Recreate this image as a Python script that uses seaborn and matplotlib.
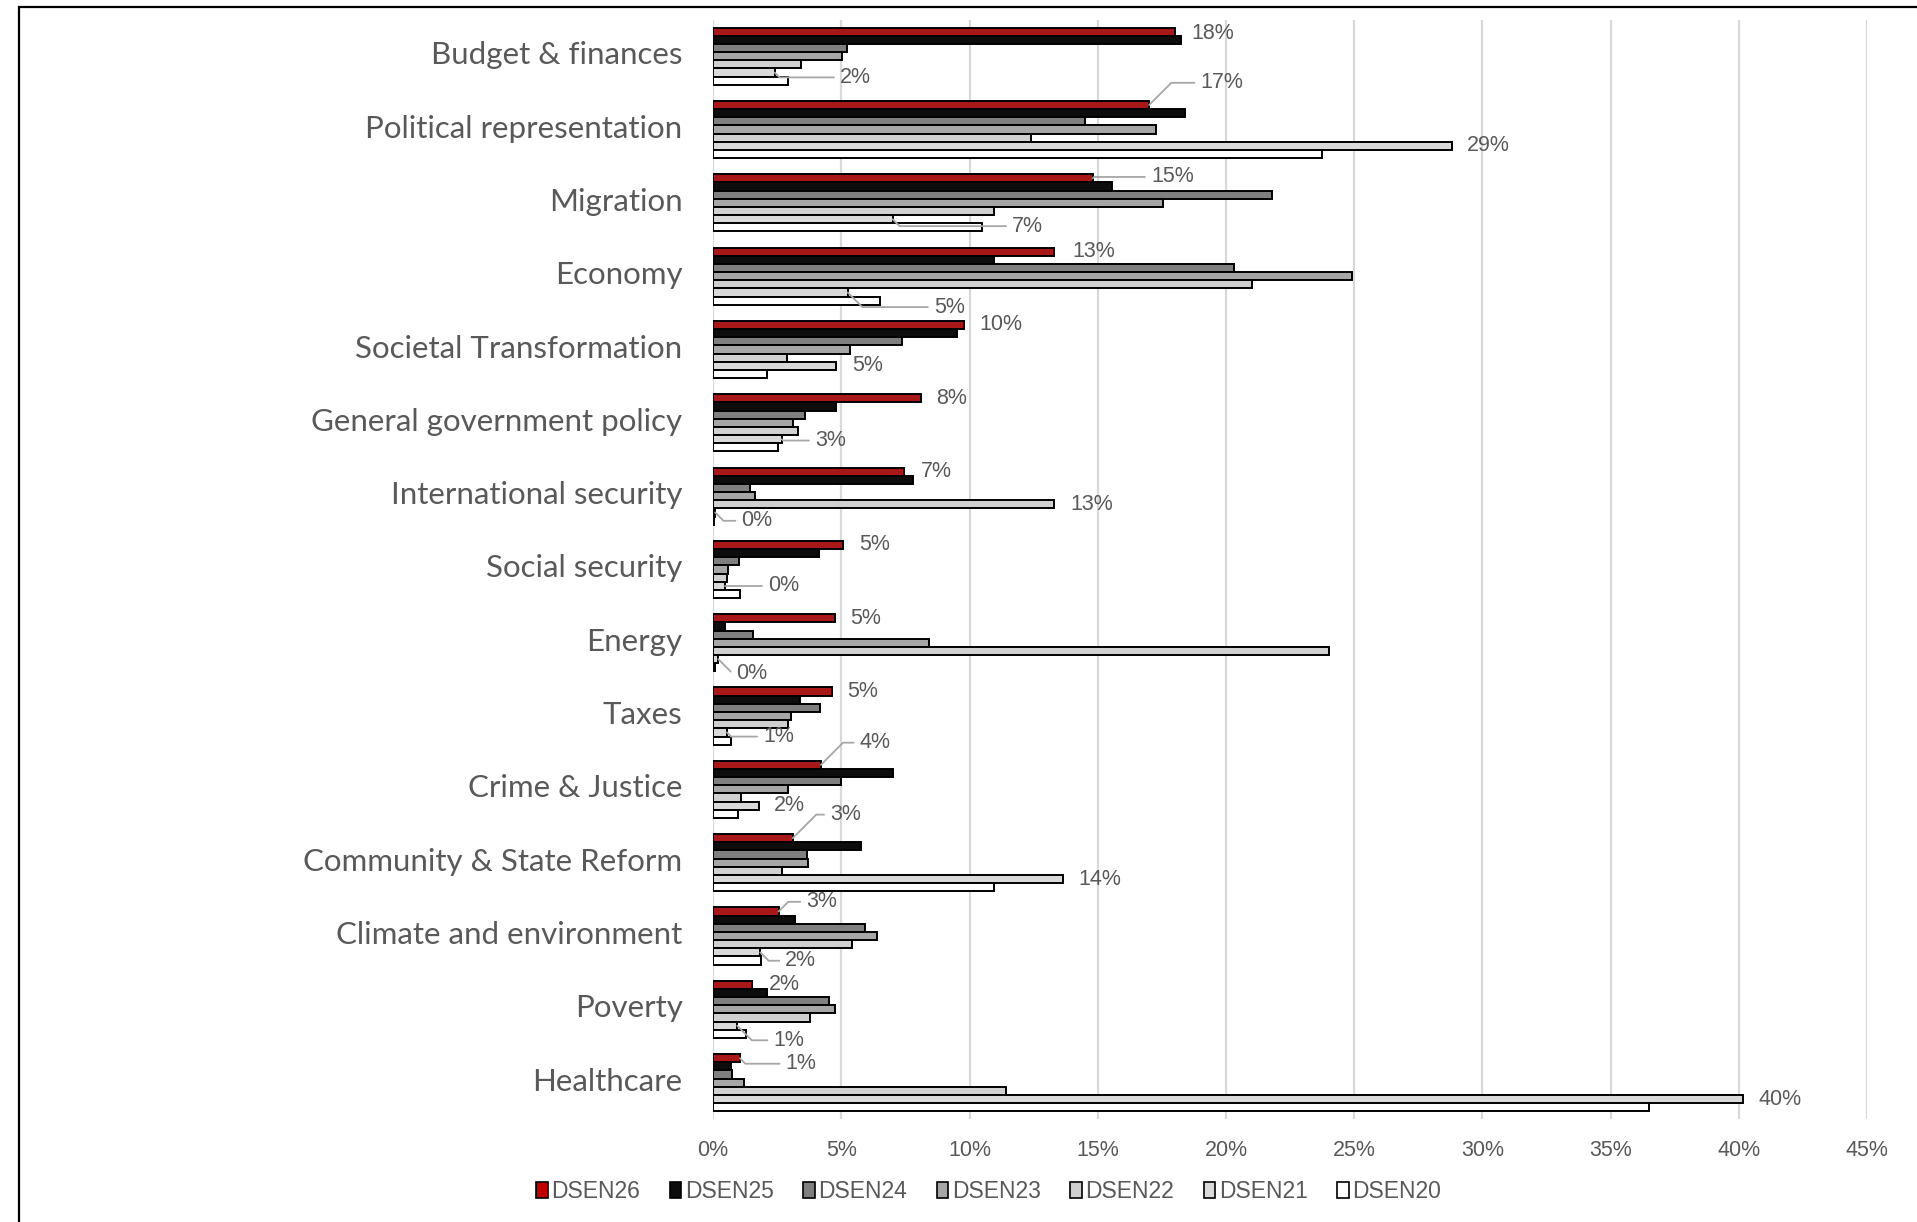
import matplotlib
matplotlib.use("Agg")
import matplotlib.pyplot as plt
import matplotlib.patches as mpatches
import matplotlib.transforms as mtransforms
from matplotlib.ticker import PercentFormatter, MultipleLocator
import pandas as pd
import seaborn as sns

# ── Data ──────────────────────────────────────────────────────────────────────
CATEGORIES = ["Budget & finances", "Political representation", "Migration",
              "Economy", "Societal Transformation", "General government policy",
              "International security", "Social security", "Energy", "Taxes",
              "Crime & Justice", "Community & State Reform",
              "Climate and environment", "Poverty", "Healthcare"]
SERIES = ["DSEN26", "DSEN25", "DSEN24", "DSEN23", "DSEN22", "DSEN21", "DSEN20"]

DSEN26 = [18.0, 17.0, 14.8, 13.3, 9.8, 8.1, 7.45, 5.05, 4.75, 4.62, 4.2, 3.1, 2.55, 1.52, 1.04]
DSEN25 = [18.25, 18.4, 15.55, 10.95, 9.5, 4.8, 7.78, 4.13, 0.45, 3.4, 7.0, 5.78, 3.18, 2.1, 0.68]
DSEN24 = [5.23, 14.5, 21.8, 20.3, 7.37, 3.57, 1.42, 1.02, 1.57, 4.16, 5.0, 3.66, 5.94, 4.5, 0.72]
DSEN23 = [5.04, 17.25, 17.55, 24.9, 5.33, 3.1, 1.65, 0.57, 8.4, 3.03, 2.93, 3.69, 6.4, 4.76, 1.2]
DSEN22 = [3.43, 12.4, 10.97, 21.0, 2.9, 3.31, 13.29, 0.55, 24.0, 2.92, 1.08, 2.67, 5.42, 3.78, 11.42]
DSEN21 = [2.4, 28.8, 7.0, 5.25, 4.78, 2.67, 0.08, 0.46, 0.2, 0.54, 1.79, 13.63, 1.84, 0.94, 40.15]
DSEN20 = [2.93, 23.75, 10.49, 6.49, 2.09, 2.52, 0.05, 1.04, 0.07, 0.68, 0.97, 10.94, 1.87, 1.3, 36.49]
VALUES = [DSEN26, DSEN25, DSEN24, DSEN23, DSEN22, DSEN21, DSEN20]

COLORS = {"DSEN26": "#C00000", "DSEN25": "#0D0D0D", "DSEN24": "#7F7F7F",
          "DSEN23": "#A6A6A6", "DSEN22": "#D0D0D0", "DSEN21": "#D9D9D9",
          "DSEN20": "#FFFFFF"}

# data labels: (category index, series, text offset in points)
LABELS = [
    (0, "DSEN26", (12, -1)), (0, "DSEN21", (47, -3.5)),
    (1, "DSEN26", (37, 16)), (1, "DSEN21", (11, 0)),
    (2, "DSEN26", (42, 1)), (2, "DSEN21", (86, -5)),
    (3, "DSEN26", (13, 0)), (3, "DSEN21", (62, -10.5)),
    (4, "DSEN26", (11, 0)), (4, "DSEN21", (12, 0)),
    (5, "DSEN26", (11, 0)), (5, "DSEN21", (24, -1)),
    (6, "DSEN26", (12, 0)), (6, "DSEN22", (12, 0)), (6, "DSEN21", (19, -6)),
    (7, "DSEN26", (12, 0)), (7, "DSEN21", (31, 0)),
    (8, "DSEN26", (11, 0)), (8, "DSEN21", (13, -10)),
    (9, "DSEN26", (11, 0)), (9, "DSEN21", (26, -3)),
    (10, "DSEN26", (28, 16)), (10, "DSEN21", (11, 0)),
    (11, "DSEN26", (27, 17)), (11, "DSEN21", (11, 0)),
    (12, "DSEN26", (20, 7)), (12, "DSEN21", (18, -6)),
    (13, "DSEN26", (12, 0)), (13, "DSEN21", (26, -10.5)),
    (14, "DSEN26", (33, -4)), (14, "DSEN21", (11, 0)),
]

TEXT_COLOR = "#595959"
GRID_COLOR = "#D9D9D9"
NUM_FONT = "Liberation Sans"
CAT_FONT = "Lato"

sns.set_style("white")
plt.rcParams["font.family"] = [NUM_FONT, "DejaVu Sans"]

df = pd.DataFrame({
    "category": [c for _ in SERIES for c in CATEGORIES],
    "series": [s for s in SERIES for _ in CATEGORIES],
    "value": [v for vals in VALUES for v in vals],
})

fig = plt.figure(figsize=(19.17, 12.22), dpi=100)
ax = fig.add_axes([0.372, 0.084, 0.602, 0.9])

sns.barplot(data=df, x="value", y="category", hue="series", orient="h",
            order=CATEGORIES, hue_order=SERIES, palette=COLORS,
            edgecolor="black", linewidth=1.4, width=0.78, errorbar=None,
            legend=False, ax=ax)

ax.set_xlim(0, 45)
ax.set_ylim(len(CATEGORIES) - 0.5, -0.5)
ax.xaxis.set_major_locator(MultipleLocator(5))
ax.xaxis.set_major_formatter(PercentFormatter(decimals=0))
ax.set_xlabel("")
ax.set_ylabel("")
for s in ax.spines.values():
    s.set_visible(False)
ax.grid(axis="x", color=GRID_COLOR, linewidth=1.6)
ax.grid(axis="y", visible=False)
ax.set_axisbelow(True)
ax.tick_params(axis="x", length=0, pad=15, labelsize=15.5, labelcolor=TEXT_COLOR)
ax.tick_params(axis="y", length=0, pad=22, labelcolor=TEXT_COLOR)
lift = mtransforms.ScaledTranslation(0, 2.5 / 72, fig.dpi_scale_trans)
for lbl in ax.get_yticklabels():
    lbl.set_fontfamily(CAT_FONT)
    lbl.set_fontsize(22.5)
    lbl.set_transform(lbl.get_transform() + lift)

# ── data labels with leader lines ─────────────────────────────────────────────
for ci, series, (dx, dy) in LABELS:
    bar = ax.containers[SERIES.index(series)][ci]
    val = VALUES[SERIES.index(series)][ci]
    xy = (bar.get_width(), bar.get_y() + bar.get_height() / 2)
    props = None
    if dx > 14 or abs(dy) > 3:
        ang = 45 if dy >= 0 else -45
        props = dict(arrowstyle="-", color="#A6A6A6", lw=1.3, shrinkA=2,
                     shrinkB=0, relpos=(0, 0.5),
                     connectionstyle=f"angle,angleA=0,angleB={ang},rad=0")
    ax.annotate(f"{val:.0f}%", xy=xy, xytext=(dx, dy),
                textcoords="offset points", ha="left", va="center",
                fontsize=15.5, color=TEXT_COLOR, arrowprops=props)

# ── legend ────────────────────────────────────────────────────────────────────
handles = [mpatches.Patch(facecolor=COLORS[s], edgecolor="black",
                          linewidth=1.2, label=s) for s in SERIES]
fig.legend(handles=handles, loc="center left", bbox_to_anchor=(0.269, 0.025),
           ncol=7, frameon=False, fontsize=16.5, handlelength=0.5,
           handleheight=0.75, handletextpad=0.15, columnspacing=1.3,
           labelcolor=TEXT_COLOR)

# chart border
fig.patches.append(mpatches.Rectangle((19 / 1917, -0.1), 1.2, 1.1 - 7 / 1222,
                                      transform=fig.transFigure, fill=False,
                                      edgecolor="black", linewidth=1.6))

fig.savefig("out.png", dpi=100)
